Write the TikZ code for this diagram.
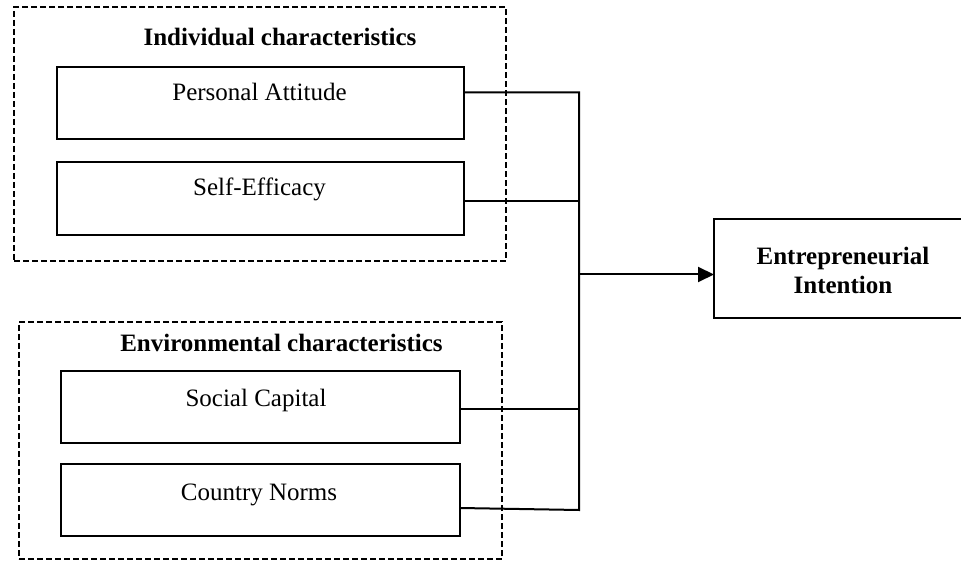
\documentclass[tikz,border=0pt]{standalone}
\usepackage{fontspec}
\setmainfont{Liberation Serif}
\usetikzlibrary{arrows.meta}
\tikzset{
  box/.style={draw=black, line width=2pt, rectangle, anchor=north west, inner sep=0pt, outer sep=0pt},
  group/.style={draw=black, line width=1.4pt, dash pattern=on 6pt off 3pt, rectangle, anchor=north west, inner sep=0pt, outer sep=0pt},
  lbl/.style={anchor=base, inner sep=0pt, font=\fontsize{25}{29}\selectfont},
  title/.style={anchor=base, inner sep=0pt, font=\fontsize{25}{29}\selectfont\bfseries},
  conn/.style={draw=black, line width=2pt},
  arr/.style={draw=black, line width=2pt, -{Triangle[length=16pt,width=15pt]}}
}
\begin{document}
\begin{tikzpicture}[x=1pt,y=-1pt]
\clip (0,0) rectangle (961,561);
\fill[white] (0,0) rectangle (961,561);

% groups
\node[group, minimum width=492pt, minimum height=254pt] (ind) at (14,7) {};
\node[group, minimum width=483pt, minimum height=237pt] (env) at (19,322) {};
\node[title] (indt) at (280,46) {Individual characteristics};
\node[title] (envt) at (281.5,351) {Environmental characteristics};

% boxes
\node[box, minimum width=407pt, minimum height=72pt] (pa) at (57,67) {};
\node[box, minimum width=407pt, minimum height=73pt] (se) at (57,162) {};
\node[box, minimum width=399pt, minimum height=72pt] (sc) at (61,371) {};
\node[box, minimum width=399pt, minimum height=72pt] (cn) at (61,464) {};
\node[lbl] (pat) at (259.5,101) {Personal Attitude};
\node[lbl] (set) at (259.5,196) {Self-Efficacy};
\node[lbl] (sct) at (256,406) {Social Capital};
\node[lbl] (cnt) at (259,500) {Country Norms};

% outcome
\node[box, minimum width=258pt, minimum height=99pt] (ei) at (714,219) {};
\node[title, align=center, anchor=center] (eit) at (843,270) {Entrepreneurial\\Intention};

% connectors
\coordinate (bt) at (579,92.5);
\coordinate (bs) at (579,201);
\coordinate (ba) at (579,274.5);
\coordinate (bc) at (579,409);
\coordinate (bb) at (579,510);
\draw[conn] ([yshift=-25.5pt]pa.north east) -- (bt) -- (bb) -- ([yshift=-44pt]cn.north east);
\draw[conn] (se.east |- bs) -- (bs);
\draw[conn] (sc.east |- bc) -- (bc);
\draw[arr] (ba) -- (ei.west |- ba);
\end{tikzpicture}
\end{document}
